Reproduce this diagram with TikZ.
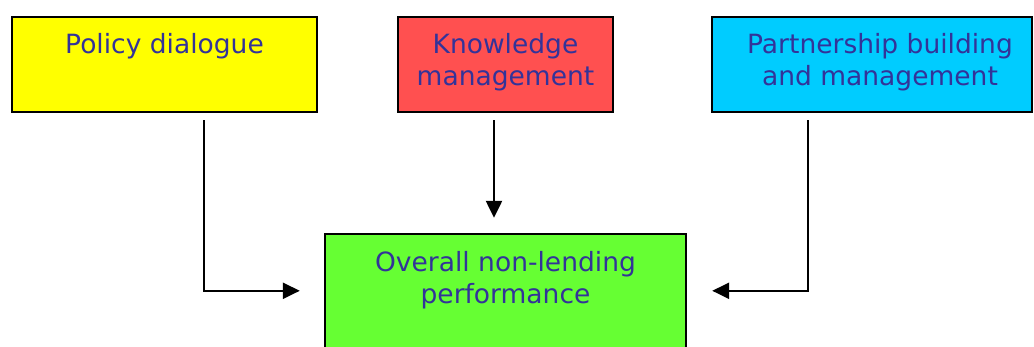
\documentclass[tikz,border=0pt]{standalone}
\usepackage{fontspec}
\setmainfont{DejaVu Sans}
\usetikzlibrary{positioning,arrows.meta}
\definecolor{txtblue}{RGB}{51,51,153}
\definecolor{boxyellow}{RGB}{255,255,0}
\definecolor{boxred}{RGB}{255,80,80}
\definecolor{boxcyan}{RGB}{0,204,255}
\definecolor{boxgreen}{RGB}{102,255,51}
\tikzset{
  box/.style={draw=black, line width=2.4pt, rectangle, inner sep=0pt},
  boxtext/.style={text=txtblue, align=center, inner sep=0pt,
    font=\fontsize{26.5pt}{32pt}\selectfont},
  link/.style={line width=2.4pt, -{Triangle[length=17pt,width=16pt]}}
}
\begin{document}
\begin{tikzpicture}[x=1pt,y=-1pt]
\useasboundingbox (0,0) rectangle (1034,347);
%----boxes-------------------------------------
\node[box, fill=boxyellow, minimum width=305pt, minimum height=95pt] (policy) at (164.5,64.5) {};
\node[box, fill=boxred, minimum width=215pt, minimum height=95pt] (knowledge) at (505.5,64.5) {};
\node[box, fill=boxcyan, minimum width=320pt, minimum height=95pt] (partner) at (872,64.5) {};
\node[box, fill=boxgreen, minimum width=361pt, minimum height=140pt] (overall) at (505.5,304) {};
%----------text--------------------------------
\node[boxtext, below=17pt of policy.north] (policytxt) {Policy dialogue};
\node[boxtext, below=17pt of knowledge.north] (knowledgetxt) {Knowledge\\management};
\node[boxtext, below=17pt of partner.north, xshift=8pt] (partnertxt) {Partnership building\\and management};
\node[boxtext, below=18pt of overall.north] (overalltxt) {Overall non-lending\\performance};
%----------arrow ends--------------------------
\coordinate (inL) at ([xshift=-24pt,yshift=-58pt]overall.north west);
\coordinate (inR) at ([xshift=25pt,yshift=-58pt]overall.north east);
\coordinate (inT) at ([xshift=-11.5pt,yshift=15pt]overall.north);
%----------arrows------------------------------
\draw[link] ([xshift=39.5pt,yshift=-7pt]policy.south) |- (inL);
\draw[link] ([xshift=-11.5pt,yshift=-7pt]knowledge.south) -- (inT);
\draw[link] ([xshift=-64pt,yshift=-7pt]partner.south) |- (inR);
\end{tikzpicture}
\end{document}
